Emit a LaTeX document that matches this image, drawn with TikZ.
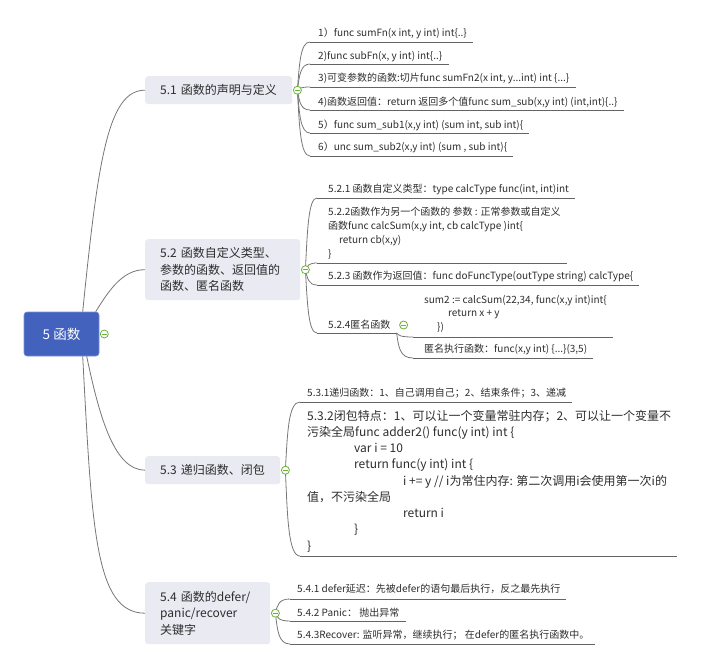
\documentclass[tikz,border=0pt]{standalone}
\usepackage{fontspec}
\setmainfont{Noto Sans CJK SC}
\usetikzlibrary{calc}

\definecolor{linkgray}{RGB}{118,118,118}
\definecolor{ulgray}{RGB}{100,100,100}
\definecolor{topicfill}{RGB}{233,234,242}
\definecolor{rootfill}{RGB}{66,98,190}
\definecolor{rootedge}{RGB}{120,145,215}
\definecolor{togglegreen}{RGB}{106,178,58}
\definecolor{inkdark}{RGB}{45,45,45}

% one leaf: style, name, parent point, underline start x, underline y, text x, text y, text
\newcommand{\mmleaf}[8]{%
  \node[leaf,#1] (#2) at (#6,#7) {#8};
  \coordinate (#2s) at (#4,#5);
  \coordinate (#2e) at ($(#2.east |- #2s)+(6,0)$);
  \draw[uline] (#2s) -- (#2e);
  \draw[link] (#3) to[branch] (#2s);
}

\begin{document}
\begin{tikzpicture}[x=1pt,y=-1pt,
  link/.style={draw=linkgray, line width=0.8pt},
  uline/.style={draw=ulgray, line width=0.8pt},
  root/.style={fill=rootfill, draw=rootedge, line width=0.6pt, rounded corners=3pt,
    minimum width=75pt, minimum height=44pt, inner sep=0pt, text=white,
    font=\fontsize{13.5}{16}\selectfont},
  topic/.style={fill=topicfill, rounded corners=3pt, anchor=north west,
    inner xsep=15pt, inner ysep=0pt, align=left, text=inkdark,
    font=\fontsize{12}{16.5}\selectfont},
  leaf/.style={anchor=west, inner sep=0pt, align=left, text=inkdark,
    font=\fontsize{10}{14}\selectfont},
  bigleaf/.style={font=\fontsize{12}{16.25}\selectfont},
  toggle/.style={circle, draw=togglegreen, fill=white, line width=0.8pt,
    minimum size=8pt, inner sep=0pt,
    path picture={\draw[togglegreen, line width=0.9pt]
      ($(path picture bounding box.center)+(-2.2,0)$) --
      ($(path picture bounding box.center)+(2.2,0)$);}},
  branch/.style={to path={.. controls
      ($(\tikztostart)!0.55!(\tikztostart|-\tikztotarget)+(2,0)$) and
      ($(\tikztostart|-\tikztotarget)+(3,0)$) .. (\tikztotarget)}}
]
\useasboundingbox (0,0) rectangle (712,656);

% root and main topics
\node[root] (n5) at (61.5,334) {5 函数};
\node[topic, text width=117pt, minimum height=28pt] (n51) at (145,76) {5.1~函数的声明与定义};
\node[topic, text width=125pt, minimum height=61pt] (n52) at (145,239)
  {5.2~函数自定义类型、\\参数的函数、返回值的\\函数、匿名函数};
\node[topic, text width=105pt, minimum height=28pt] (n53) at (145,456) {5.3~递归函数、闭包};
\node[topic, text width=95pt, minimum height=62pt] (n54) at (145,582)
  {5.4~函数的defer/\\panic/recover\\关键字};

% toggle positions
\coordinate (t0) at ($(n5.east)+(5,0)$);
\coordinate (t51) at ($(n51.east)+(5,0)$);
\coordinate (t52) at ($(n52.east)+(5,0)$);
\coordinate (t53) at ($(n53.east)+(5,0)$);
\coordinate (t54) at ($(n54.east)+(5,0)$);

% root connectors
\coordinate (r1) at ($(n5.north west)+(59,0)$);
\coordinate (r2) at ($(n5.north west)+(72,0)$);
\coordinate (r3) at ($(n5.south west)+(63,0)$);
\coordinate (r4) at ($(n5.south west)+(59,0)$);
\draw[link] (r1) .. controls (98,160) and (108,90) .. (n51.west);
\draw[link] (r2) .. controls (108,292) and (122,269.5) .. (n52.west);
\draw[link] (r3) .. controls (100,420) and (115,470) .. (n53.west);
\draw[link] (r4) .. controls (92,530) and (95,613) .. (n54.west);

% 5.1
\mmleaf{}{a1}{t51}{310}{42}{318}{33}{1）func sumFn(x int, y int) int\{..\}}
\mmleaf{}{a2}{t51}{310}{64}{318}{57}{2)func subFn(x, y int) int\{..\}}
\mmleaf{}{a3}{t51}{310}{87}{318}{78}{3)可变参数的函数:切片func sumFn2(x int, y...int) int \{...\}}
\mmleaf{}{a4}{t51}{310}{110}{318}{102}{4)函数返回值：return 返回多个值func sum\_sub(x,y int) (int,int)\{..\}}
\mmleaf{}{a5}{t51}{310}{133}{318}{125}{5）func sum\_sub1(x,y int) (sum int, sub int)\{}
\mmleaf{}{a6}{t51}{310}{156}{318}{147}{6）unc sum\_sub2(x,y int) (sum , sub int)\{}

% 5.2
\mmleaf{}{b1}{t52}{317}{198}{328}{189}{5.2.1 函数自定义类型：type calcType func(int, int)int}
\mmleaf{}{b2}{t52}{317}{263}{328}{233}{5.2.2函数作为另一个函数的 参数 : 正常参数或自定义\\
  函数func calcSum(x,y int, cb calcType )int\{\\
  \hspace*{11pt}return cb(x,y)\\
  \}}
\mmleaf{}{b3}{t52}{317}{285}{328}{277}{5.2.3 函数作为返回值：func doFuncType(outType string) calcType\{}
\mmleaf{}{b4}{t52}{317}{333}{328}{325}{5.2.4匿名函数}
\coordinate (t524) at ($(b4.east)+(13,0)$);

% 5.2.4 children
\mmleaf{font=\fontsize{10}{13.5}\selectfont}{c1}{b4e}{413}{337}{424}{313.5}{sum2 := calcSum(22,34, func(x,y int)int\{\\
  \hspace*{24pt}return x + y\\
  \hspace*{13pt}\})}
\mmleaf{}{c2}{b4e}{413}{358}{424}{349}{匿名执行函数：func(x,y int) \{...\}(3,5)}

% 5.3
\mmleaf{}{d1}{t53}{300}{402}{307}{393}{5.3.1递归函数：1、自己调用自己；2、结束条件；3、递减}
\mmleaf{bigleaf}{d2}{t53}{300}{556}{307}{481}{5.3.2闭包特点：1、可以让一个变量常驻内存；2、可以让一个变量不\\
  污染全局func adder2() func(y int) int \{\\
  \hspace*{47pt}var i = 10\\
  \hspace*{47pt}return func(y int) int \{\\
  \hspace*{96pt}i += y // i为常住内存: 第二次调用i会使用第一次i的\\
  值，不污染全局\\
  \hspace*{96pt}return i\\
  \hspace*{47pt}\}\\
  \}}

% 5.4
\mmleaf{}{e1}{t54}{290}{599}{297}{589}{5.4.1 defer延迟：先被defer的语句最后执行，反之最先执行}
\mmleaf{}{e2}{t54}{290}{621}{297}{613}{5.4.2 Panic： 抛出异常}
\mmleaf{}{e3}{t54}{290}{644}{297}{635}{5.4.3Recover: 监听异常，继续执行； 在defer的匿名执行函数中。}

% collapse toggles on top of the connectors
\node[toggle] (k0) at (t0) {};
\node[toggle] (k51) at (t51) {};
\node[toggle] (k52) at (t52) {};
\node[toggle] (k53) at (t53) {};
\node[toggle] (k54) at (t54) {};
\node[toggle] (k524) at (t524) {};
\end{tikzpicture}
\end{document}
